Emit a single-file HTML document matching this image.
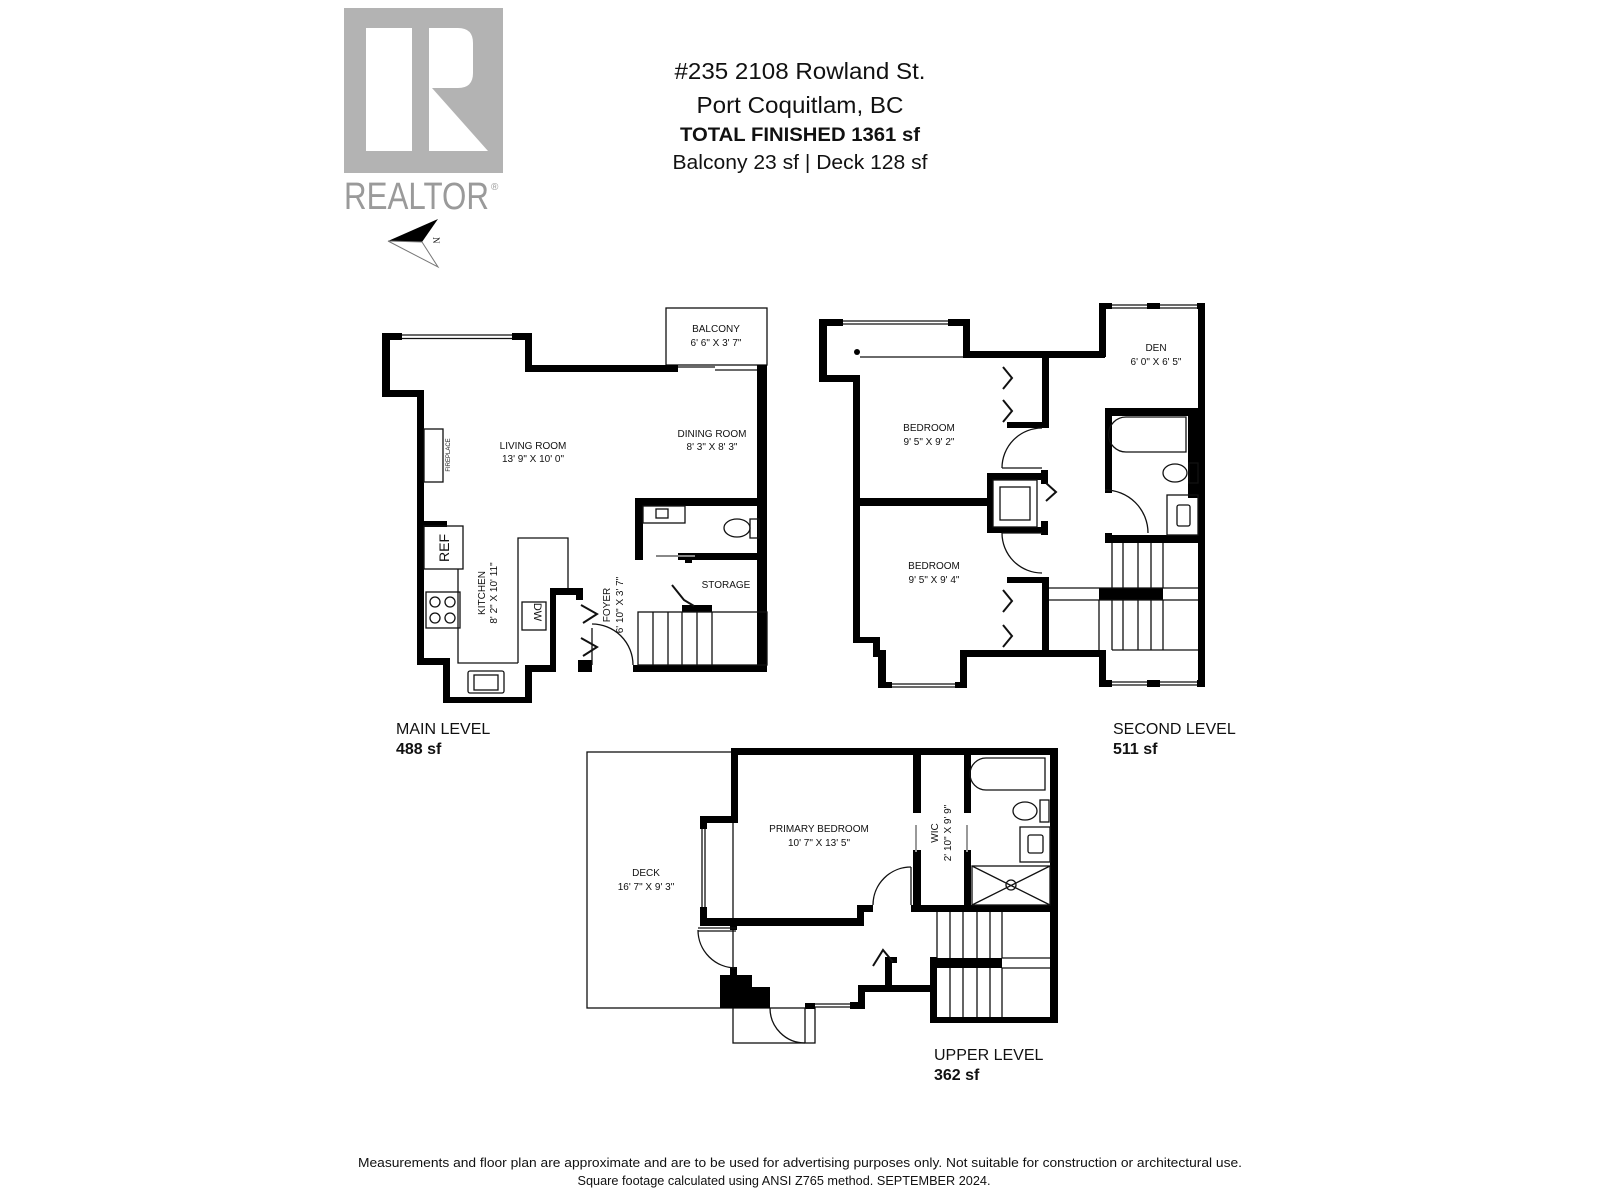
<!DOCTYPE html>
<html><head><meta charset="utf-8"><style>
html,body{margin:0;padding:0;background:#fff;}
svg{display:block;}
text{font-family:"Liberation Sans",Arial,sans-serif;fill:#111;}
.l{font-size:10px;text-anchor:middle;}
.t{fill:none;stroke:#111;stroke-width:1.3;}
.th{fill:none;stroke:#111;stroke-width:2;}
.w{fill:#000;}
</style></head><body>
<svg width="1600" height="1200" viewBox="0 0 1600 1200" xmlns="http://www.w3.org/2000/svg">
<!-- Logo -->
<rect x="344" y="8" width="159" height="165" fill="#b3b3b3"/>
<rect x="366" y="28" width="46" height="123" fill="#fff"/>
<path d="M429,28 H458 Q473,28 473,43 V73 Q473,88 458,88 H432 L488,151 H429 Z" fill="#fff"/>
<text x="344" y="209" font-size="38" style="fill:#9a9a9a" textLength="145" lengthAdjust="spacingAndGlyphs">REALTOR</text>
<text x="491" y="190" font-size="10" style="fill:#9a9a9a">®</text>
<!-- compass -->
<polygon points="388,241 438,219 422,242" fill="#000"/>
<polygon points="388,241 422,242 438,267" fill="#fff" stroke="#777" stroke-width="1"/>
<text x="428" y="242" font-size="9" transform="rotate(90 433 242)" style="font-family:'Liberation Serif',serif">N</text>

<!-- header -->
<text x="800" y="79" font-size="23" text-anchor="middle" textLength="251" lengthAdjust="spacingAndGlyphs">#235 2108 Rowland St.</text>
<text x="800" y="113" font-size="23" text-anchor="middle" textLength="207" lengthAdjust="spacingAndGlyphs">Port Coquitlam, BC</text>
<text x="800" y="141" font-size="19" font-weight="bold" text-anchor="middle" textLength="240" lengthAdjust="spacingAndGlyphs">TOTAL FINISHED  1361 sf</text>
<text x="800" y="169" font-size="20" text-anchor="middle" textLength="255" lengthAdjust="spacingAndGlyphs">Balcony  23 sf  |  Deck  128 sf</text>

<!-- ============ MAIN LEVEL ============ -->
<rect x="666" y="308" width="101" height="57" class="t"/>
<g class="w">
<rect x="382" y="333" width="20" height="7"/><rect x="512" y="333" width="20" height="7"/>
<rect x="382" y="333" width="8" height="64"/>
<rect x="525" y="333" width="7" height="39"/>
<rect x="382" y="390" width="42" height="7"/>
<rect x="417" y="390" width="7" height="275"/>
<rect x="525" y="365" width="153" height="7"/>
<rect x="757" y="365" width="10" height="307"/>
<rect x="635" y="498" width="132" height="8"/>
<rect x="635" y="498" width="8" height="62"/>
<rect x="678" y="553" width="89" height="7"/>
<rect x="685" y="553" width="7" height="10"/>
<rect x="633" y="665" width="134" height="7"/>
<rect x="417" y="658" width="33" height="7"/>
<rect x="443" y="658" width="7" height="45"/>
<rect x="443" y="697" width="89" height="6"/>
<rect x="525" y="665" width="7" height="38"/>
<rect x="525" y="665" width="31" height="7"/>
<rect x="550" y="588" width="6" height="84"/>
<rect x="550" y="588" width="33" height="7"/>
<rect x="576" y="588" width="7" height="12"/>
<rect x="578" y="660" width="14" height="12"/>
<rect x="682" y="605" width="30" height="7"/>
<rect x="417" y="521" width="30" height="6"/>
</g>
<line x1="402" y1="335" x2="512" y2="335" class="t"/><line x1="402" y1="338.5" x2="512" y2="338.5" class="t"/>
<line x1="678" y1="367" x2="715" y2="367" class="t"/><line x1="715" y1="370" x2="757" y2="370" class="t"/>
<line x1="656" y1="556" x2="695" y2="556" stroke="#888" stroke-width="2"/>
<!-- fixtures -->
<rect x="424" y="429" width="19" height="53" class="t"/>
<text x="0" y="0" font-size="6" text-anchor="middle" transform="translate(450 455) rotate(-90)">FIREPLACE</text>
<rect x="424" y="526" width="39" height="43" class="t"/>
<text x="0" y="0" font-size="14" text-anchor="middle" transform="translate(449 548) rotate(-90)">REF</text>
<rect x="426" y="592" width="34" height="36" class="t"/>
<circle cx="435" cy="602" r="5" class="t"/><circle cx="450" cy="602" r="5" class="t"/>
<circle cx="435" cy="618" r="5" class="t"/><circle cx="450" cy="618" r="5" class="t"/>
<polyline points="518,663 518,538 568,538 568,588" class="t"/>
<polyline points="458,569 458,663 518,663" class="t"/>
<rect x="522" y="602" width="24" height="28" class="t"/>
<text x="0" y="0" font-size="11" text-anchor="middle" transform="translate(534 612) rotate(90)">DW</text>
<rect x="468" y="671" width="36" height="22" rx="2" class="t"/>
<rect x="474" y="675" width="24" height="15" class="t"/>
<rect x="643" y="506" width="42" height="17" class="t"/>
<rect x="656" y="509" width="12" height="9" class="t"/>
<ellipse cx="737" cy="528" rx="13" ry="9" class="t"/>
<rect x="750" y="519" width="9" height="19" class="t"/>
<!-- stairs main -->
<rect x="638" y="612" width="129" height="53" class="t"/>
<g class="t"><line x1="653" y1="612" x2="653" y2="665"/><line x1="668" y1="612" x2="668" y2="665"/><line x1="682" y1="612" x2="682" y2="665"/><line x1="697" y1="612" x2="697" y2="665"/><line x1="712" y1="612" x2="712" y2="665"/></g>
<!-- doors main -->
<line x1="592" y1="628" x2="592" y2="665" class="t"/>
<path d="M592,624 A41,41 0 0 1 633,665" class="t"/>
<polyline points="581,605 597,614 583,623" class="th"/>
<polyline points="581,638 597,647 583,656" class="th"/>
<polyline points="672,585 684,600 694,606" class="th"/>
<!-- labels main -->
<text class="l" x="716" y="332">BALCONY</text><text class="l" x="716" y="346">6' 6" X 3' 7"</text>
<text class="l" x="533" y="449">LIVING ROOM</text><text class="l" x="533" y="462">13' 9" X 10' 0"</text>
<text class="l" x="712" y="437">DINING ROOM</text><text class="l" x="712" y="450">8' 3" X 8' 3"</text>
<text class="l" x="726" y="588">STORAGE</text>
<text class="l" transform="translate(485 593) rotate(-90)">KITCHEN</text>
<text class="l" transform="translate(497 593) rotate(-90)">8' 2" X 10' 11"</text>
<text class="l" transform="translate(610 605) rotate(-90)">FOYER</text>
<text class="l" transform="translate(623 605) rotate(-90)">6' 10" X 3' 7"</text>
<text x="396" y="734" font-size="16">MAIN LEVEL</text>
<text x="396" y="754" font-size="16" font-weight="bold">488 sf</text>

<!-- ============ SECOND LEVEL ============ -->
<g class="w">
<rect x="819" y="319" width="24" height="7"/><rect x="948" y="319" width="22" height="7"/>
<rect x="819" y="319" width="8" height="63"/>
<rect x="963" y="319" width="7" height="38"/>
<rect x="819" y="375" width="41" height="7"/>
<rect x="853" y="375" width="7" height="268"/>
<rect x="853" y="637" width="27" height="6"/>
<rect x="873" y="637" width="7" height="20"/>
<rect x="878" y="650" width="8" height="38"/>
<rect x="878" y="682" width="14" height="6"/><rect x="955" y="682" width="12" height="6"/>
<rect x="960" y="650" width="7" height="38"/>
<rect x="960" y="650" width="145" height="7"/>
<rect x="963" y="351" width="142" height="7"/>
<rect x="1099" y="303" width="7" height="54"/>
<rect x="1099" y="303" width="13" height="6"/><rect x="1147" y="303" width="13" height="6"/><rect x="1197" y="303" width="8" height="6"/>
<rect x="1198" y="303" width="7" height="384"/>
<rect x="1042" y="357" width="7" height="71"/>
<rect x="1007" y="422" width="42" height="6"/>
<rect x="1042" y="577" width="7" height="80"/>
<rect x="1007" y="577" width="42" height="6"/>
<rect x="853" y="498" width="134" height="8"/>
<rect x="987" y="473" width="6" height="60"/><rect x="987" y="473" width="56" height="7"/><rect x="987" y="527" width="56" height="6"/>
<rect x="1041" y="470" width="7" height="14"/><rect x="1041" y="521" width="7" height="14"/>
<rect x="1105" y="408" width="93" height="8"/>
<rect x="1105" y="408" width="7" height="85"/>
<rect x="1188" y="408" width="10" height="90"/>
<rect x="1105" y="533" width="7" height="10"/>
<rect x="1105" y="535" width="100" height="8"/>
<rect x="1099" y="588" width="64" height="12"/>
<rect x="1099" y="650" width="7" height="37"/>
<rect x="1099" y="680" width="13" height="7"/><rect x="1147" y="680" width="13" height="7"/><rect x="1197" y="680" width="8" height="7"/>
<circle cx="857" cy="352" r="3"/>
</g>
<g class="t">
<line x1="843" y1="321" x2="948" y2="321"/><line x1="843" y1="324" x2="948" y2="324"/>
<line x1="892" y1="684" x2="955" y2="684"/><line x1="892" y1="687" x2="955" y2="687"/>
<line x1="1112" y1="305" x2="1147" y2="305"/><line x1="1112" y1="308" x2="1147" y2="308"/>
<line x1="1160" y1="305" x2="1197" y2="305"/><line x1="1160" y1="308" x2="1197" y2="308"/>
<line x1="1112" y1="682" x2="1147" y2="682"/><line x1="1112" y1="685" x2="1147" y2="685"/>
<line x1="1160" y1="682" x2="1197" y2="682"/><line x1="1160" y1="685" x2="1197" y2="685"/>
<line x1="860" y1="357" x2="963" y2="357"/>
<rect x="993" y="480" width="44" height="47"/>
<rect x="1000" y="487" width="30" height="33"/>
<!-- stairs -->
<line x1="1049" y1="588" x2="1198" y2="588"/><line x1="1049" y1="600" x2="1198" y2="600"/>
<line x1="1112" y1="543" x2="1112" y2="588"/><line x1="1123" y1="543" x2="1123" y2="588"/><line x1="1138" y1="543" x2="1138" y2="588"/><line x1="1151" y1="543" x2="1151" y2="588"/><line x1="1163" y1="543" x2="1163" y2="588"/>
<line x1="1099" y1="600" x2="1099" y2="650"/><line x1="1112" y1="600" x2="1112" y2="650"/><line x1="1123" y1="600" x2="1123" y2="650"/><line x1="1138" y1="600" x2="1138" y2="650"/><line x1="1151" y1="600" x2="1151" y2="650"/><line x1="1163" y1="600" x2="1163" y2="650"/>
<line x1="1112" y1="650" x2="1198" y2="650"/>
<!-- doors -->
<line x1="1002" y1="468" x2="1042" y2="468"/>
<path d="M1042,428 A40,40 0 0 0 1002,468"/>
<line x1="1002" y1="533" x2="1042" y2="533"/>
<path d="M1002,533 A40,40 0 0 0 1042,573"/>
<path d="M1105,490 A43,43 0 0 1 1148,533"/>
<!-- fixtures -->
<path d="M1126,417 H1186 V452 H1126 A17.5,17.5 0 0 1 1126,417 Z"/>
<ellipse cx="1175" cy="473" rx="12" ry="9"/>
<rect x="1189" y="463" width="9" height="20"/>
<rect x="1167" y="495" width="31" height="40"/>
<rect x="1177" y="505" width="13" height="21" rx="2"/>
</g>
<g class="th">
<polyline points="1003,367 1012,378 1003,389"/><polyline points="1003,400 1012,411 1003,422"/>
<polyline points="1003,590 1012,601 1003,612"/><polyline points="1003,625 1012,636 1003,647"/>
<polyline points="1046,483 1056,492 1046,501"/>
</g>
<text class="l" x="1156" y="351">DEN</text><text class="l" x="1156" y="365">6' 0" X 6' 5"</text>
<text class="l" x="929" y="431">BEDROOM</text><text class="l" x="929" y="445">9' 5" X 9' 2"</text>
<text class="l" x="934" y="569">BEDROOM</text><text class="l" x="934" y="583">9' 5" X 9' 4"</text>
<text x="1113" y="734" font-size="16">SECOND LEVEL</text>
<text x="1113" y="754" font-size="16" font-weight="bold">511 sf</text>

<!-- ============ UPPER LEVEL ============ -->
<rect x="587" y="752" width="146" height="256" class="t"/>
<rect x="733" y="1008" width="82" height="35" class="t"/>
<g class="w">
<rect x="731" y="748" width="327" height="7"/>
<rect x="731" y="748" width="7" height="74"/>
<rect x="700" y="816" width="38" height="7"/>
<rect x="700" y="816" width="7" height="13"/>
<rect x="700" y="907" width="7" height="19"/>
<rect x="700" y="918" width="163" height="8"/>
<rect x="730" y="918" width="7" height="12"/>
<rect x="857" y="905" width="7" height="21"/>
<rect x="857" y="905" width="16" height="7"/>
<rect x="913" y="748" width="8" height="65"/><rect x="913" y="850" width="8" height="62"/>
<rect x="964" y="748" width="7" height="65"/><rect x="964" y="850" width="7" height="62"/>
<rect x="911" y="905" width="147" height="7"/>
<rect x="1050" y="748" width="8" height="275"/>
<rect x="930" y="958" width="72" height="10"/>
<rect x="930" y="957" width="7" height="66"/>
<rect x="930" y="1017" width="128" height="6"/>
<rect x="858" y="985" width="79" height="7"/>
<rect x="858" y="985" width="7" height="23"/>
<rect x="850" y="1002" width="15" height="7"/>
<rect x="805" y="1003" width="10" height="6"/>
<rect x="885" y="957" width="7" height="28"/>
<rect x="885" y="957" width="12" height="6"/>
<path d="M720,975 H752 V987 H770 V1008 H720 Z"/>
<rect x="730" y="967" width="7" height="9"/>
</g>
<g class="t">
<line x1="702" y1="829" x2="702" y2="907"/><line x1="705" y1="829" x2="705" y2="907"/>
<line x1="815" y1="1004" x2="850" y2="1004"/><line x1="815" y1="1007" x2="850" y2="1007"/>
<line x1="698" y1="928" x2="736" y2="928"/><line x1="698" y1="931" x2="736" y2="931"/>
<path d="M698,930 A38,38 0 0 0 736,968"/>
<line x1="805" y1="1008" x2="805" y2="1043"/>
<path d="M770,1008 A35,35 0 0 0 805,1043"/>
<line x1="911" y1="867" x2="911" y2="905"/>
<path d="M873,905 A38,38 0 0 1 911,867"/>
<line x1="1002" y1="958" x2="1050" y2="958"/><line x1="1002" y1="968" x2="1050" y2="968"/>
<line x1="950" y1="912" x2="950" y2="958"/><line x1="963" y1="912" x2="963" y2="958"/><line x1="977" y1="912" x2="977" y2="958"/><line x1="990" y1="912" x2="990" y2="958"/><line x1="1002" y1="912" x2="1002" y2="958"/><line x1="937" y1="912" x2="937" y2="958"/>
<line x1="950" y1="968" x2="950" y2="1017"/><line x1="963" y1="968" x2="963" y2="1017"/><line x1="977" y1="968" x2="977" y2="1017"/><line x1="990" y1="968" x2="990" y2="1017"/><line x1="1002" y1="968" x2="1002" y2="1017"/>
<path d="M986,758 H1045 V790 H986 A16,16 0 0 1 986,758 Z"/>
<ellipse cx="1025" cy="811" rx="12" ry="9"/>
<rect x="1040" y="800" width="9" height="22"/>
<rect x="1020" y="827" width="30" height="35"/>
<rect x="1028" y="835" width="15" height="18" rx="2"/>
<rect x="972" y="866" width="78" height="39"/>
<line x1="972" y1="866" x2="1050" y2="905"/><line x1="972" y1="905" x2="1050" y2="866"/>
<circle cx="1011" cy="885" r="5"/>
</g>
<line x1="916" y1="825" x2="916" y2="852" stroke="#999" stroke-width="2"/>
<line x1="967" y1="825" x2="967" y2="852" stroke="#999" stroke-width="2"/>
<polyline points="873,966 883,950 893,962" class="th"/>
<text class="l" x="819" y="832">PRIMARY BEDROOM</text><text class="l" x="819" y="846">10' 7" X 13' 5"</text>
<text class="l" x="646" y="876">DECK</text><text class="l" x="646" y="890">16' 7" X 9' 3"</text>
<text class="l" transform="translate(938 833) rotate(-90)">WIC</text>
<text class="l" transform="translate(951 833) rotate(-90)">2' 10" X 9' 9"</text>
<text x="934" y="1060" font-size="16">UPPER LEVEL</text>
<text x="934" y="1080" font-size="16" font-weight="bold">362 sf</text>

<!-- footer -->
<text x="800" y="1167" font-size="13" text-anchor="middle" textLength="884" lengthAdjust="spacingAndGlyphs">Measurements and floor plan are approximate and are to be used for advertising purposes only. Not suitable for construction or architectural use.</text>
<text x="784" y="1185" font-size="13" text-anchor="middle" textLength="413" lengthAdjust="spacingAndGlyphs">Square footage calculated using ANSI Z765 method. SEPTEMBER 2024.</text>
</svg>
</body></html>
